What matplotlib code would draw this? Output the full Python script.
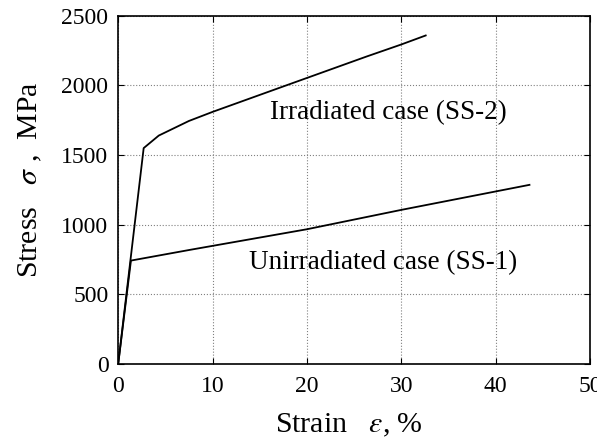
import numpy as np
from matplotlib import pyplot as plt

plt.rcParams['font.family'] = ['Liberation Serif', 'DejaVu Serif']
plt.rcParams['mathtext.fontset'] = 'stix'

# irradiated case (SS-2)
strain_irr = [0.0, 2.7, 4.3, 7.5, 10.0, 18.0, 26.3, 30.0, 32.6]
stress_irr = [0, 1550, 1640, 1745, 1810, 2005, 2207, 2294, 2359]

# unirradiated case (SS-1)
strain_unirr = [0.0, 1.35, 7.6, 20.0, 30.0, 43.6]
stress_unirr = [0, 742, 819, 967, 1106, 1286]

label_irr = "Irradiated case (SS-2)"
label_unirr = "Unirradiated case (SS-1)"

fig = plt.figure(figsize=(5.97, 4.4), dpi=100)
ax = fig.add_axes([0.198, 0.173, 0.79, 0.791])

ax.plot(strain_irr, stress_irr, color="black", lw=1.3)
ax.plot(strain_unirr, stress_unirr, color="black", lw=1.3)

ax.text(16.1, 1803, label_irr, fontsize=19.5, va="center", ha="left")
ax.text(13.9, 725, label_unirr, fontsize=19.5, va="center", ha="left")

ax.set_xlim(0, 50)
ax.set_ylim(0, 2500)
ax.set_xticks(np.arange(0, 51, 10))
ax.set_yticks(np.arange(0, 2501, 500))
ax.grid(True, linestyle=":", color="gray", lw=0.8)
ax.tick_params(direction="in", length=4, labelsize=17, top=True, right=True)
ax.tick_params(axis="x", pad=9)
ax.tick_params(axis="y", pad=7)
for s in ax.spines.values():
    s.set_linewidth(1.2)

ax.set_xlabel(r"Strain   $\varepsilon$, %", fontsize=21.5)
ax.xaxis.set_label_coords(0.49, -0.138)
ax.set_ylabel(r"Stress   $\sigma$ ,  MPa", fontsize=21.5)
ax.yaxis.set_label_coords(-0.158, 0.53)

fig.savefig("out.png", dpi=100)
